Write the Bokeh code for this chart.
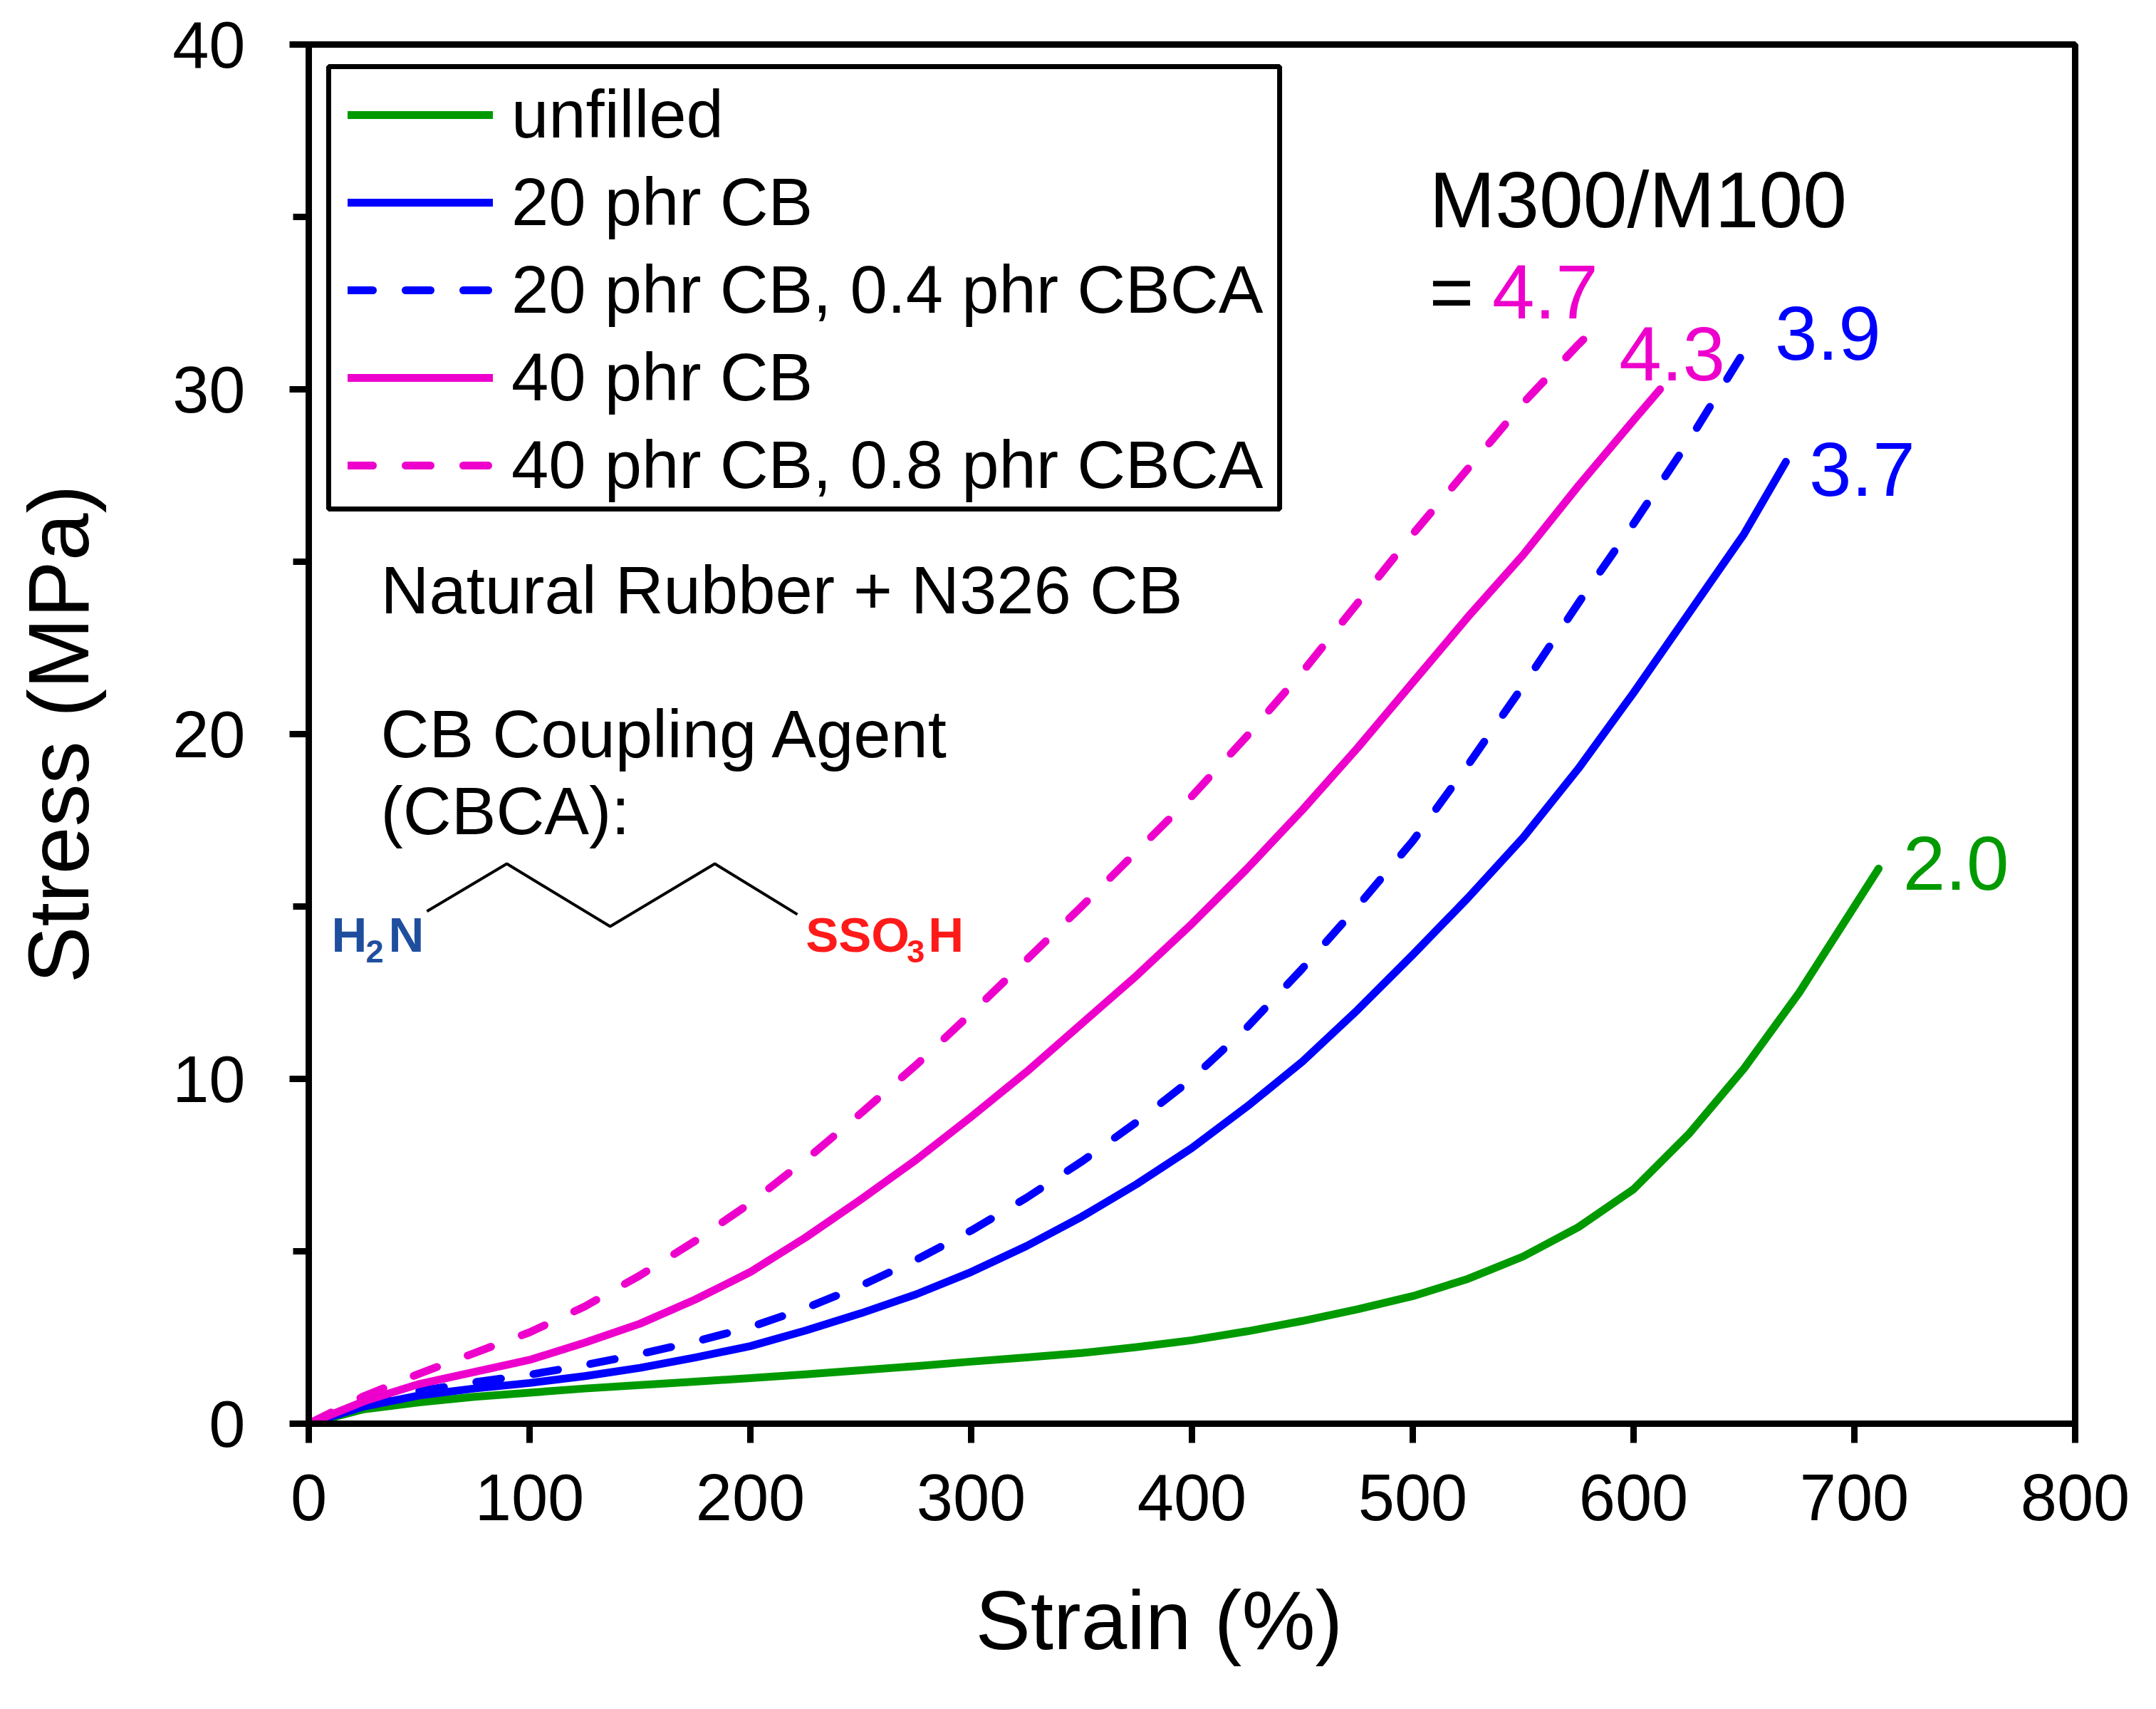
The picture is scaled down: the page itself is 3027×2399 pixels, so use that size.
from bokeh.plotting import figure
from bokeh.models import Legend, LegendItem, FixedTicker, Range1d, Title, BoxAnnotation
from bokeh.embed import file_html
from bokeh.resources import INLINE
from bokeh.core.properties import value

FONT = "Liberation Sans"

# ---------------- data ----------------
strain_unfilled = [0, 25, 50, 75, 100, 125, 150, 175, 200, 225, 250, 275, 300, 325, 350, 375, 400, 425, 450, 475,
                   500, 525, 550, 575, 600, 625, 650, 675, 700, 711]
stress_unfilled = [0, 0.42, 0.62, 0.78, 0.9, 1.02, 1.12, 1.22, 1.32, 1.43, 1.55, 1.67, 1.8, 1.92, 2.05, 2.22, 2.42, 2.68, 2.98, 3.32,
                   3.7, 4.2, 4.85, 5.7, 6.8, 8.4, 10.3, 12.5, 15.0, 16.1]

strain_cb20 = [0, 25, 50, 75, 100, 125, 150, 175, 200, 225, 250, 275, 300, 325, 350, 375, 400, 425, 450, 475,
               500, 525, 550, 575, 600, 625, 650, 669]
stress_cb20 = [0, 0.5, 0.82, 1.02, 1.18, 1.38, 1.62, 1.92, 2.25, 2.7, 3.2, 3.75, 4.4, 5.15, 6.0, 6.95, 8.0, 9.2, 10.5, 12.0,
               13.6, 15.25, 17.0, 19.0, 21.2, 23.5, 25.8, 27.9]

strain_cb20_cbca = [0, 25, 50, 75, 100, 125, 150, 175, 200, 225, 250, 275, 300, 325, 350, 375, 400, 425, 450, 475,
                    500, 525, 550, 575, 600, 625, 652]
stress_cb20_cbca = [0, 0.55, 0.95, 1.2, 1.42, 1.7, 2.02, 2.38, 2.8, 3.35, 4.0, 4.75, 5.6, 6.55, 7.6, 8.75, 10.0, 11.5, 13.2, 15.0,
                    16.9, 19.1, 21.4, 23.8, 26.1, 28.5, 31.3]

strain_cb40 = [0, 25, 50, 75, 100, 125, 150, 175, 200, 225, 250, 275, 300, 325, 350, 375, 400, 425, 450, 475,
               500, 525, 550, 575, 600, 612]
stress_cb40 = [0, 0.65, 1.15, 1.5, 1.85, 2.35, 2.9, 3.6, 4.4, 5.4, 6.5, 7.65, 8.9, 10.2, 11.6, 13.0, 14.5, 16.1, 17.8, 19.6,
               21.5, 23.4, 25.2, 27.2, 29.1, 30.0]

strain_cb40_cbca = [0, 25, 50, 75, 100, 125, 150, 175, 200, 225, 250, 275, 300, 325, 350, 375, 400, 425, 450, 475,
                    500, 525, 550, 575, 586]
stress_cb40_cbca = [0, 0.8, 1.45, 2.05, 2.65, 3.4, 4.3, 5.3, 6.4, 7.65, 9.0, 10.4, 11.9, 13.45, 15.0, 16.6, 18.2, 19.95, 21.8, 23.8,
                    25.8, 27.7, 29.6, 31.3, 32.0]

series_labels = ["unfilled", "20 phr CB", "20 phr CB, 0.4 phr CBCA", "40 phr CB", "40 phr CB, 0.8 phr CBCA"]
series_colors = ["#009a00", "#0000ff", "#0000ff", "#ee00cc", "#ee00cc"]
series_dashed = [False, False, True, False, True]

# M300/M100 ratios and their label anchors (left edge, data units)
ratio_text = ["4.7", "4.3", "3.9", "3.7", "2.0"]
ratio_color = ["#ee00cc", "#ee00cc", "#0000ff", "#0000ff", "#009a00"]
ratio_x = [536.0, 593.5, 664.0, 679.5, 722.0]
ratio_y = [32.81, 31.02, 31.62, 27.68, 16.25]

x_ticks = [0, 100, 200, 300, 400, 500, 600, 700, 800]
y_ticks = [0, 10, 20, 30, 40]
y_minor = [5, 15, 25, 35]

# chemical structure of the coupling agent (zig-zag chain, data units)
chain_x = [53.5, 89.7, 136.5, 183.9, 221.3]
chain_y = [14.86, 16.24, 14.42, 16.24, 14.77]

# ---------------- figure ----------------
p = figure(frame_width=2480, frame_height=1936,
           min_border_left=433, min_border_right=98, min_border_top=62, min_border_bottom=385,
           x_range=Range1d(0, 800), y_range=Range1d(0, 40),
           output_backend="svg", toolbar_location=None)

p.xgrid.visible = False
p.ygrid.visible = False
p.outline_line_color = "black"
p.outline_line_width = 9
p.background_fill_color = "white"
p.border_fill_color = "white"

p.xaxis.ticker = FixedTicker(ticks=x_ticks)
p.yaxis.ticker = FixedTicker(ticks=y_ticks, minor_ticks=y_minor)

for ax in (p.xaxis[0], p.yaxis[0]):
    ax.axis_line_width = 9
    ax.axis_line_color = "black"
    ax.major_tick_line_width = 9
    ax.minor_tick_line_width = 9
    ax.major_tick_in = 0
    ax.minor_tick_in = 0
    ax.major_tick_out = 27
    ax.minor_tick_out = 22
    ax.major_label_text_font = FONT
    ax.major_label_text_font_size = "92px"
    ax.major_label_text_color = "black"
    ax.axis_label_text_font = FONT
    ax.axis_label_text_font_size = "120px"
    ax.axis_label_text_font_style = "normal"
    ax.axis_label_text_color = "black"

p.yaxis.axis_label = "Stress (MPa)"
p.xaxis.major_label_standoff = 44
p.yaxis.major_label_standoff = 62
p.yaxis.axis_label_standoff = 90

xtitle = Title(text="Strain (%)", align="left", offset=936, standoff=143,
               text_font=FONT, text_font_size="116px", text_font_style="normal", text_color="black")
p.add_layout(xtitle, "below")

# ---------------- curves ----------------
xs_all = [strain_unfilled, strain_cb20, strain_cb20_cbca, strain_cb40, strain_cb40_cbca]
ys_all = [stress_unfilled, stress_cb20, stress_cb20_cbca, stress_cb40, stress_cb40_cbca]

items = []
for xs, ys, lab, col, dashed in zip(xs_all, ys_all, series_labels, series_colors, series_dashed):
    r = p.line(xs, ys, line_color=col, line_width=11,
               line_dash=("35 46" if dashed else "solid"), line_cap="round", line_join="round")
    items.append(LegendItem(label=lab, renderers=[r]))

# legend frame (data units) and legend entries
legend_box = BoxAnnotation(left=9.0, right=439.7, top=39.36, bottom=26.53,
                           fill_alpha=0.0, line_color="black", line_width=7, line_alpha=1.0)
p.add_layout(legend_box)

legend = Legend(items=items, location=(47, 1283), padding=8, spacing=15,
                glyph_width=204, glyph_height=72, label_standoff=26,
                label_text_font=FONT, label_text_font_size="94px", label_text_color="black",
                border_line_alpha=0.0, background_fill_alpha=0.0)
p.add_layout(legend)

# ---------------- annotations ----------------
p.text(x=[32.6, 32.6, 32.6], y=[24.18, 20.0, 17.77],
       text=["Natural Rubber + N326 CB", "CB Coupling Agent", "(CBCA):"],
       text_font=value(FONT), text_font_size="94px", text_color="black",
       text_baseline="alphabetic", text_align="left")

p.line(chain_x, chain_y, line_color="black", line_width=4)

H2N_COL = "#1f4e9e"
RED = "#ff1a1a"
p.text(x=[10.3, 36.1], y=[14.17, 14.17], text=["H", "N"], text_font=value(FONT),
       text_font_size="69px", text_font_style="bold", text_color=H2N_COL, text_baseline="alphabetic")
p.text(x=[25.8], y=[13.70], text=["2"], text_font=value(FONT),
       text_font_size="45px", text_font_style="bold", text_color=H2N_COL, text_baseline="alphabetic")
p.text(x=[225.1, 280.6], y=[14.17, 14.17], text=["SSO", "H"], text_font=value(FONT),
       text_font_size="69px", text_font_style="bold", text_color=RED, text_baseline="alphabetic")
p.text(x=[270.9], y=[13.70], text=["3"], text_font=value(FONT),
       text_font_size="45px", text_font_style="bold", text_color=RED, text_baseline="alphabetic")

p.text(x=[507.5], y=[35.49], text=["M300/M100"], text_font=value(FONT),
       text_font_size="111px", text_color="black", text_baseline="alphabetic")
p.text(x=[507.5], y=[32.81], text=["="], text_font=value(FONT),
       text_font_size="107px", text_color="black", text_baseline="alphabetic")
p.text(x=ratio_x, y=ratio_y, text=ratio_text, text_color=ratio_color, text_font=value(FONT),
       text_font_size="107px", text_baseline="alphabetic")

open("out.html", "w").write(file_html(p, INLINE))
